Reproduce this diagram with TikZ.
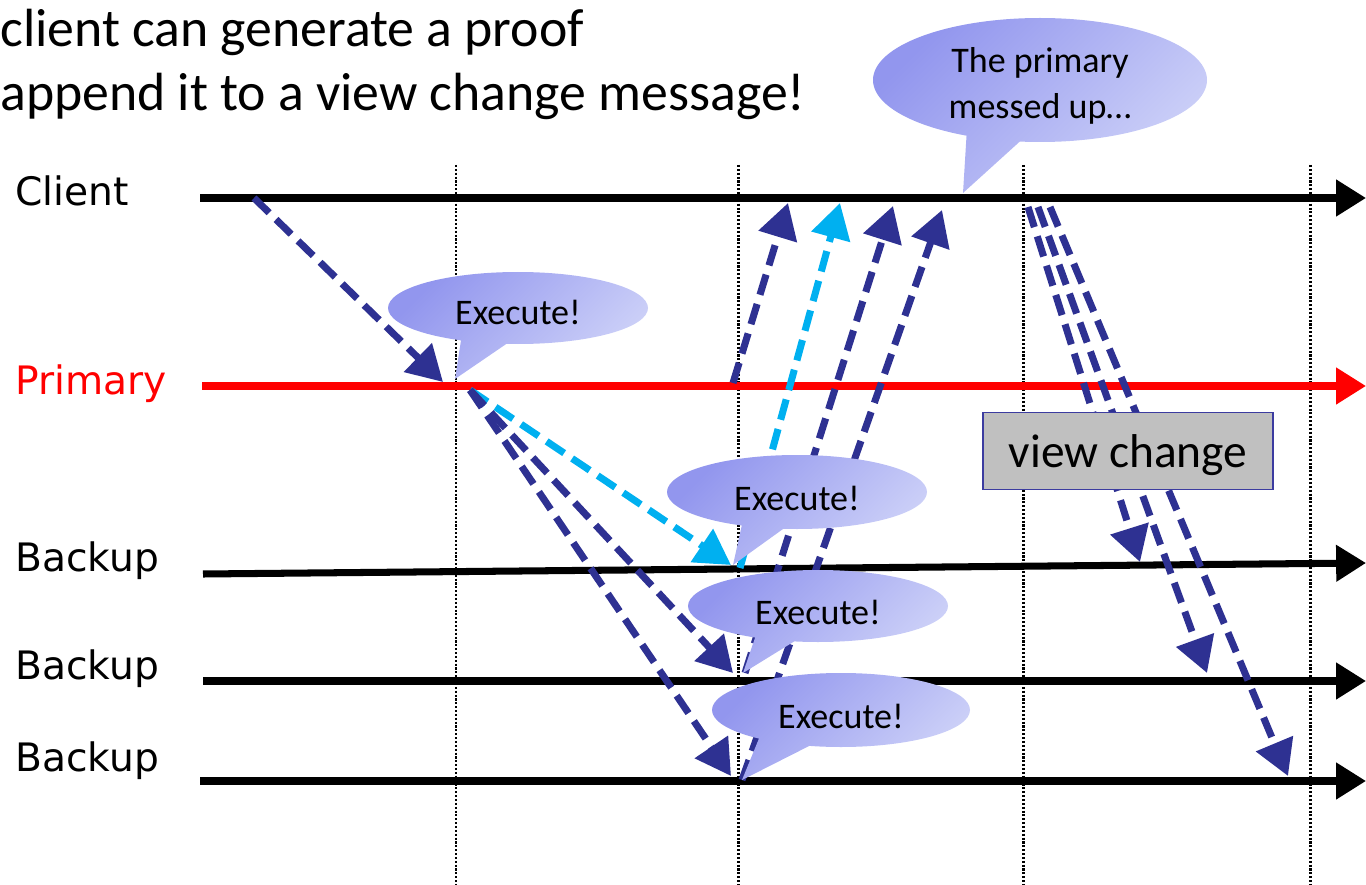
\documentclass[tikz,border=0pt]{standalone}
\usepackage{fontspec}
\setmainfont{Carlito}
\newfontfamily\lanefont{DejaVu Sans}
\usetikzlibrary{
  arrows.meta,
  positioning
}
\definecolor{msgblue}{RGB}{46,49,146}
\definecolor{msgcyan}{RGB}{0,176,240}
\definecolor{bubtop}{RGB}{146,150,238}
\definecolor{bubbot}{RGB}{206,210,248}
\definecolor{boxgray}{RGB}{192,192,192}
\definecolor{boxedge}{RGB}{60,60,160}

\begin{document}
\begin{tikzpicture}[
  x=0.02cm, y=-0.02cm,
  title/.style={anchor=base west, inner sep=0pt, font=\fontsize{30.6}{36}\selectfont},
  lane/.style={anchor=base west, inner sep=0pt, font=\lanefont\fontsize{22.3}{26}\selectfont},
  timeline/.style={line width=4pt, -{Triangle[length=17pt,width=20pt]}},
  tick/.style={line width=1.7pt, dash pattern=on 1.2pt off 1pt},
  msg/.style={draw=msgblue, line width=4pt, dash pattern=on 12pt off 5.5pt,
    -{Triangle[length=20pt,width=22pt]}},
  reply/.style={msg, draw=msgcyan},
  bubble/.style={top color=bubtop, bottom color=bubbot, shading angle=45},
  say/.style={inner sep=0pt, font=\fontsize{20.5}{26}\selectfont, align=center},
  vcbox/.style={draw=boxedge, line width=0.8pt, fill=boxgray, inner sep=0pt,
    minimum width=5.8cm, minimum height=1.54cm, text height=24pt, text depth=5pt,
    font=\fontsize{27}{32}\selectfont}
]
  \useasboundingbox (0,0) rectangle (1366,885);

  % title
  \node[title] (title1) at (0,47) {client can generate a proof};
  \node[title] (title2) at (0,111) {append it to a view change message!};

  % lanes
  \node[lane] (client) at (15,206) {Client};
  \node[lane, text=red] (primary) at (15,394) {Primary};
  \node[lane] (backupA) at (15,571) {Backup};
  \node[lane] (backupB) at (15,679) {Backup};
  \node[lane] (backupC) at (15,771) {Backup};

  \coordinate (clientS) at (200,198);  \coordinate (clientE) at (1366,198);
  \coordinate (primS) at (202,386);    \coordinate (primE) at (1366,386);
  \coordinate (bkAS) at (203,574);     \coordinate (bkAE) at (1366,563);
  \coordinate (bkBS) at (203,681);     \coordinate (bkBE) at (1366,681);
  \coordinate (bkCS) at (200,781);     \coordinate (bkCE) at (1366,781);

  % rounds
  \draw[tick] (456,165) -- (456,885);
  \draw[tick] (738,165) -- (738,885);
  \draw[tick] (1023,165) -- (1023,885);
  \draw[tick] (1310,165) -- (1310,885);

  \draw[timeline] (clientS) -- (clientE);
  \draw[timeline, red] (primS) -- (primE);
  \draw[timeline] (bkAS) -- (bkAE);
  \draw[timeline] (bkBS) -- (bkBE);
  \draw[timeline] (bkCS) -- (bkCE);

  % request and execution
  \coordinate (req) at (254,198);
  \coordinate (reqIn) at (443,382);
  \coordinate (fwd) at (470,390);
  \coordinate (fwdA) at (731,565);
  \coordinate (fwdB) at (733,673);
  \coordinate (fwdC) at (731,776);
  \draw[msg] (req) -- (reqIn);
  \draw[reply] (fwd) -- (fwdA);
  \draw[msg] (fwd) -- (fwdB);
  \draw[msg] (fwd) -- (fwdC);

  % replies to the client
  \coordinate (repP) at (733,383);  \coordinate (ansP) at (788,203);
  \coordinate (repA) at (740,568);  \coordinate (ansA) at (840,203);
  \coordinate (repB) at (745,673);  \coordinate (ansB) at (893,206);
  \coordinate (repC) at (742,780);  \coordinate (ansC) at (942,210);
  \draw[msg] (repP) -- (ansP);
  \draw[reply] (repA) -- (ansA);
  \draw[msg] (repB) -- (ansB);
  \draw[msg] (repC) -- (ansC);

  % view change
  \coordinate (vcA) at (1028,207);  \coordinate (vcAin) at (1140,562);
  \coordinate (vcB) at (1038,207);  \coordinate (vcBin) at (1207,673);
  \coordinate (vcC) at (1050,207);  \coordinate (vcCin) at (1288,776);
  \draw[msg] (vcA) -- (vcAin);
  \draw[msg] (vcB) -- (vcBin);
  \draw[msg] (vcC) -- (vcCin);

  % bubbles
  \shade[bubble] (518,308) ellipse [x radius=130, y radius=36]
    (462,334) -- (515,338) -- (455,379) -- cycle;
  \node[say] (exec1) at (518,312) {Execute!};

  \shade[bubble] (797,492) ellipse [x radius=130, y radius=37]
    (743,520) -- (790,524) -- (733,565) -- cycle;
  \node[say] (exec2) at (797,498) {Execute!};

  \shade[bubble] (818,606) ellipse [x radius=130, y radius=36]
    (757,632) -- (803,636) -- (743,673) -- cycle;
  \node[say] (exec3) at (818,612) {Execute!};

  \shade[bubble] (841,710) ellipse [x radius=129, y radius=37]
    (760,736) -- (817,742) -- (742,780) -- cycle;
  \node[say] (exec4) at (841,716) {Execute!};

  \shade[bubble] (1040,80) ellipse [x radius=167, y radius=62]
    (967,128) -- (1027,135) -- (963,193) -- cycle;
  \node[say] (messed) at (1040,86) {The primary\\messed up…};

  \node[vcbox] (vc) at (1128,451) {view change};
\end{tikzpicture}
\end{document}
